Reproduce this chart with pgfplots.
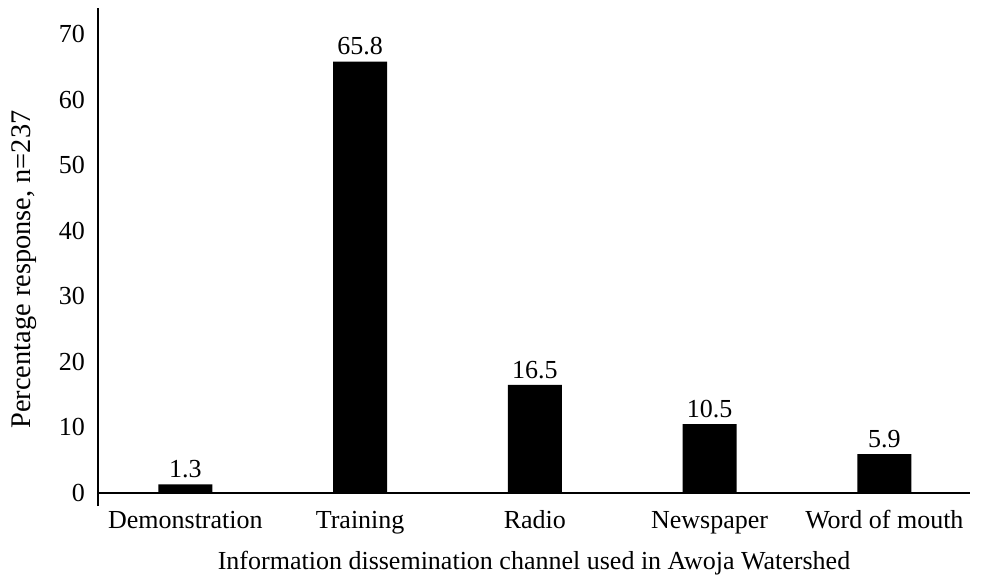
\documentclass[border=0pt]{standalone}
\usepackage{fontspec}
\setmainfont{Liberation Serif}
\usepackage{pgfplots}
\pgfplotsset{compat=1.18}
\begin{document}
\fontsize{13pt}{15pt}\selectfont
\begin{tikzpicture}
\path[use as bounding box] (-49pt,-36.5pt) rectangle (445pt,253pt);
\begin{axis}[
  at={(0,0)}, anchor=south west,
  scale only axis, width=436pt, height=249pt,
  xmin=-0.5, xmax=4.49, ymin=-2, ymax=74,
  axis x line=middle, axis y line=left,
  hide obscured x ticks=false, hide obscured y ticks=false,
  axis line style={-, line width=1.3pt},
  xtick={0,1,2,3,4},
  xticklabels={Demonstration, Training, Radio, Newspaper, Word of mouth},
  ytick={0,10,...,70},
  major tick length=0pt,
  /pgf/number format/assume math mode=true,
  tick label style={font=\fontsize{13pt}{15pt}\selectfont},
  xticklabel style={anchor=base, yshift=-18pt},
  yticklabel style={anchor=east, xshift=-2pt},
  every axis x label/.style={at={(axis description cs:0.5,-0.114)}, anchor=center, font=\fontsize{13pt}{15pt}\selectfont},
  every axis y label/.style={at={(axis description cs:-0.085,0.475)}, rotate=90, anchor=center, font=\fontsize{14.2pt}{16pt}\selectfont},
  xlabel={Information dissemination channel used in Awoja Watershed},
  ylabel={Percentage response, n=237},
  ybar, bar width=27pt, bar shift=0pt,
  nodes near coords,
  every node near coord/.append style={font=\fontsize{13pt}{15pt}\selectfont, anchor=south, inner sep=3pt, black},
  clip=false,
]
\addplot[fill=black, draw=none] coordinates {(0,1.3) (1,65.8) (2,16.5) (3,10.5) (4,5.9)};
\end{axis}
\end{tikzpicture}
\end{document}
